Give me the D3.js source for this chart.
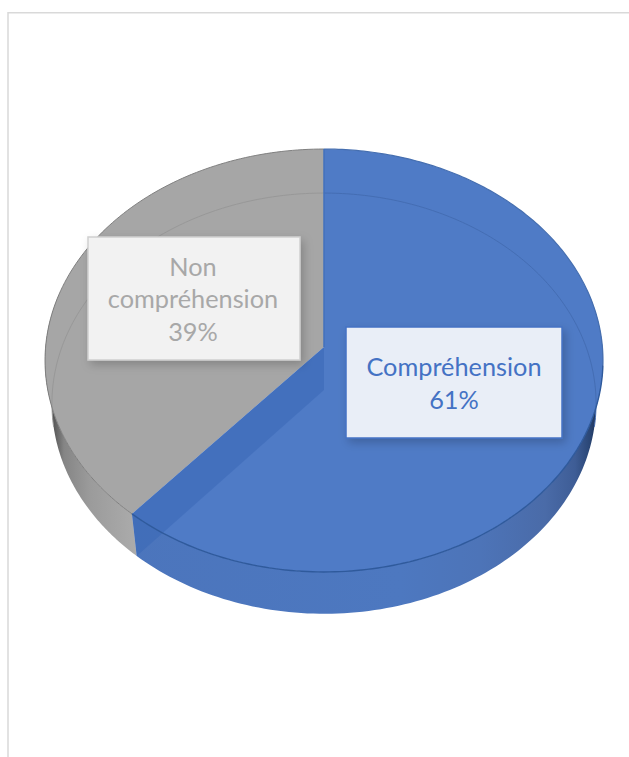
<!DOCTYPE html>
<html><head><meta charset="utf-8">
<script src="https://cdn.jsdelivr.net/npm/d3@7"></script>
<style>html,body{margin:0;padding:0;background:#fff}svg{display:block}</style>
</head><body><div id="c"></div>
<script>
const categories = ["Compréhension", "Non compréhension"];
const values = [61.4, 38.6];
const labelLines = [["Compréhension", "61%"], ["Non", "compréhension", "39%"]];

const W = 629, H = 757;
const svg = d3.select("#c").append("svg").attr("width", W).attr("height", H);
const defs = svg.append("defs");

// Frame
svg.append("path").attr("d", `M8 ${H}V12.75H${W}`).attr("fill", "none").attr("stroke", "#d9d9d9").attr("stroke-width", 1.5);

// Perspective projection of the unit disc
const k = 0.0638, cx = 324;
const topRim = { A: 278.4, B: 210.6, y0: 347 };
const botRim = { A: 271.5, B: 209.5, y0: 390 };
const project = (rim, a) => {
  const u = Math.sin(a), v = Math.cos(a), w = 1 + k * v;
  return [cx + rim.A * u / w, rim.y0 - rim.B * v / w];
};
const arcPts = (rim, a0, a1) => d3.range(0, 121).map(i => project(rim, a0 + (a1 - a0) * i / 120));
const line = d3.line();
const pie = d3.pie().sort(null).value(d => d)(values);
const blue = pie[0], grey = pie[1];
const deg = Math.PI / 180;

function hGrad(id, stops) {
  const g = defs.append("linearGradient").attr("id", id).attr("gradientUnits", "userSpaceOnUse")
    .attr("x1", 40).attr("x2", 606).attr("y1", 0).attr("y2", 0);
  stops.forEach(([x, c]) => g.append("stop").attr("offset", (x - 40) / 566).attr("stop-color", c));
}
hGrad("gw", [[47, "#303030"], [53, "#555555"], [64, "#858585"], [90, "#9b9b9b"], [135, "#ababab"], [606, "#ababab"]]);
hGrad("bw", [[40, "#4b74bb"], [400, "#4d78c0"], [480, "#4d74b8"], [545, "#4a6ba8"], [575, "#3e5d96"], [590, "#2a4675"], [600, "#172a4c"]]);

const sh = defs.append("filter").attr("id", "sh").attr("x", "-10%").attr("y", "-10%").attr("width", "125%").attr("height", "130%");
sh.append("feDropShadow").attr("dx", 3).attr("dy", 4).attr("stdDeviation", 5).attr("flood-color", "#000").attr("flood-opacity", 0.2);

// Side walls
const wall = (a0, a1) => line(arcPts(topRim, a0, a1).concat(arcPts(botRim, a1, a0))) + "Z";
svg.append("path").attr("d", wall(grey.startAngle, 285 * deg)).attr("fill", "url(#gw)");
svg.append("path").attr("d", wall(75 * deg, blue.endAngle)).attr("fill", "url(#bw)");

// Top surface
const wedge = (a0, a1) => line([[cx, topRim.y0], ...arcPts(topRim, a0, a1)]) + "Z";
svg.append("path").attr("d", wedge(grey.startAngle, grey.endAngle)).attr("fill", "#a6a6a6");
svg.append("path").attr("d", wedge(blue.startAngle, blue.endAngle)).attr("fill", "#4f7bc6");

// Far rim of the base, seen through the surface
svg.append("path").attr("d", line(arcPts(botRim, grey.endAngle - 100 * deg, grey.endAngle)))
  .attr("fill", "none").attr("stroke", "#989898").attr("stroke-width", 1);
svg.append("path").attr("d", line(arcPts(botRim, 0, 100 * deg)))
  .attr("fill", "none").attr("stroke", "#446db3").attr("stroke-width", 1);

// Cut face of the blue slice
const a = blue.endAngle;
svg.append("path")
  .attr("d", line([[cx, topRim.y0], project(topRim, a), project(botRim, a), [cx, botRim.y0]]) + "Z")
  .attr("fill", "#3b68b6").attr("fill-opacity", 0.55);

// Visible rims
svg.append("path").attr("d", line(arcPts(topRim, 0, 95 * deg)))
  .attr("fill", "none").attr("stroke", "#466fb0").attr("stroke-width", 1.2);
svg.append("path").attr("d", line(arcPts(topRim, 95 * deg, blue.endAngle)))
  .attr("fill", "none").attr("stroke", "#2f5a9c").attr("stroke-width", 1.4);
svg.append("path").attr("d", line(arcPts(topRim, grey.startAngle, grey.endAngle)))
  .attr("fill", "none").attr("stroke", "#808080").attr("stroke-width", 1);
svg.append("line").attr("x1", cx).attr("x2", cx).attr("y1", topRim.y0 - 198).attr("y2", topRim.y0)
  .attr("stroke", "#4270bd").attr("stroke-width", 1.5);

// Data labels
const labelBoxes = [
  { x: 346, y: 327, w: 216, h: 111, fill: "#e9eef7", stroke: "#4472c4", text: "#4472c4", first: 376, step: 32.5 },
  { x: 88, y: 237, w: 212, h: 123, fill: "#f2f2f2", stroke: "#cfcfcf", text: "#a8a8a8", first: 275.5, step: 32.5 }
];
categories.forEach((c, i) => {
  const b = labelBoxes[i];
  svg.append("rect").attr("x", b.x).attr("y", b.y).attr("width", b.w).attr("height", b.h)
    .attr("fill", b.fill).attr("stroke", b.stroke).attr("stroke-width", 1.5).attr("filter", "url(#sh)");
  const t = svg.append("text").attr("text-anchor", "middle").attr("fill", b.text)
    .attr("font-family", "Lato, 'Open Sans', sans-serif").attr("font-size", 25.3);
  labelLines[i].forEach((l, j) => t.append("tspan").attr("x", b.x + b.w / 2 - (i ? 1 : 0)).attr("y", b.first + j * b.step).text(l));
});
</script></body></html>
